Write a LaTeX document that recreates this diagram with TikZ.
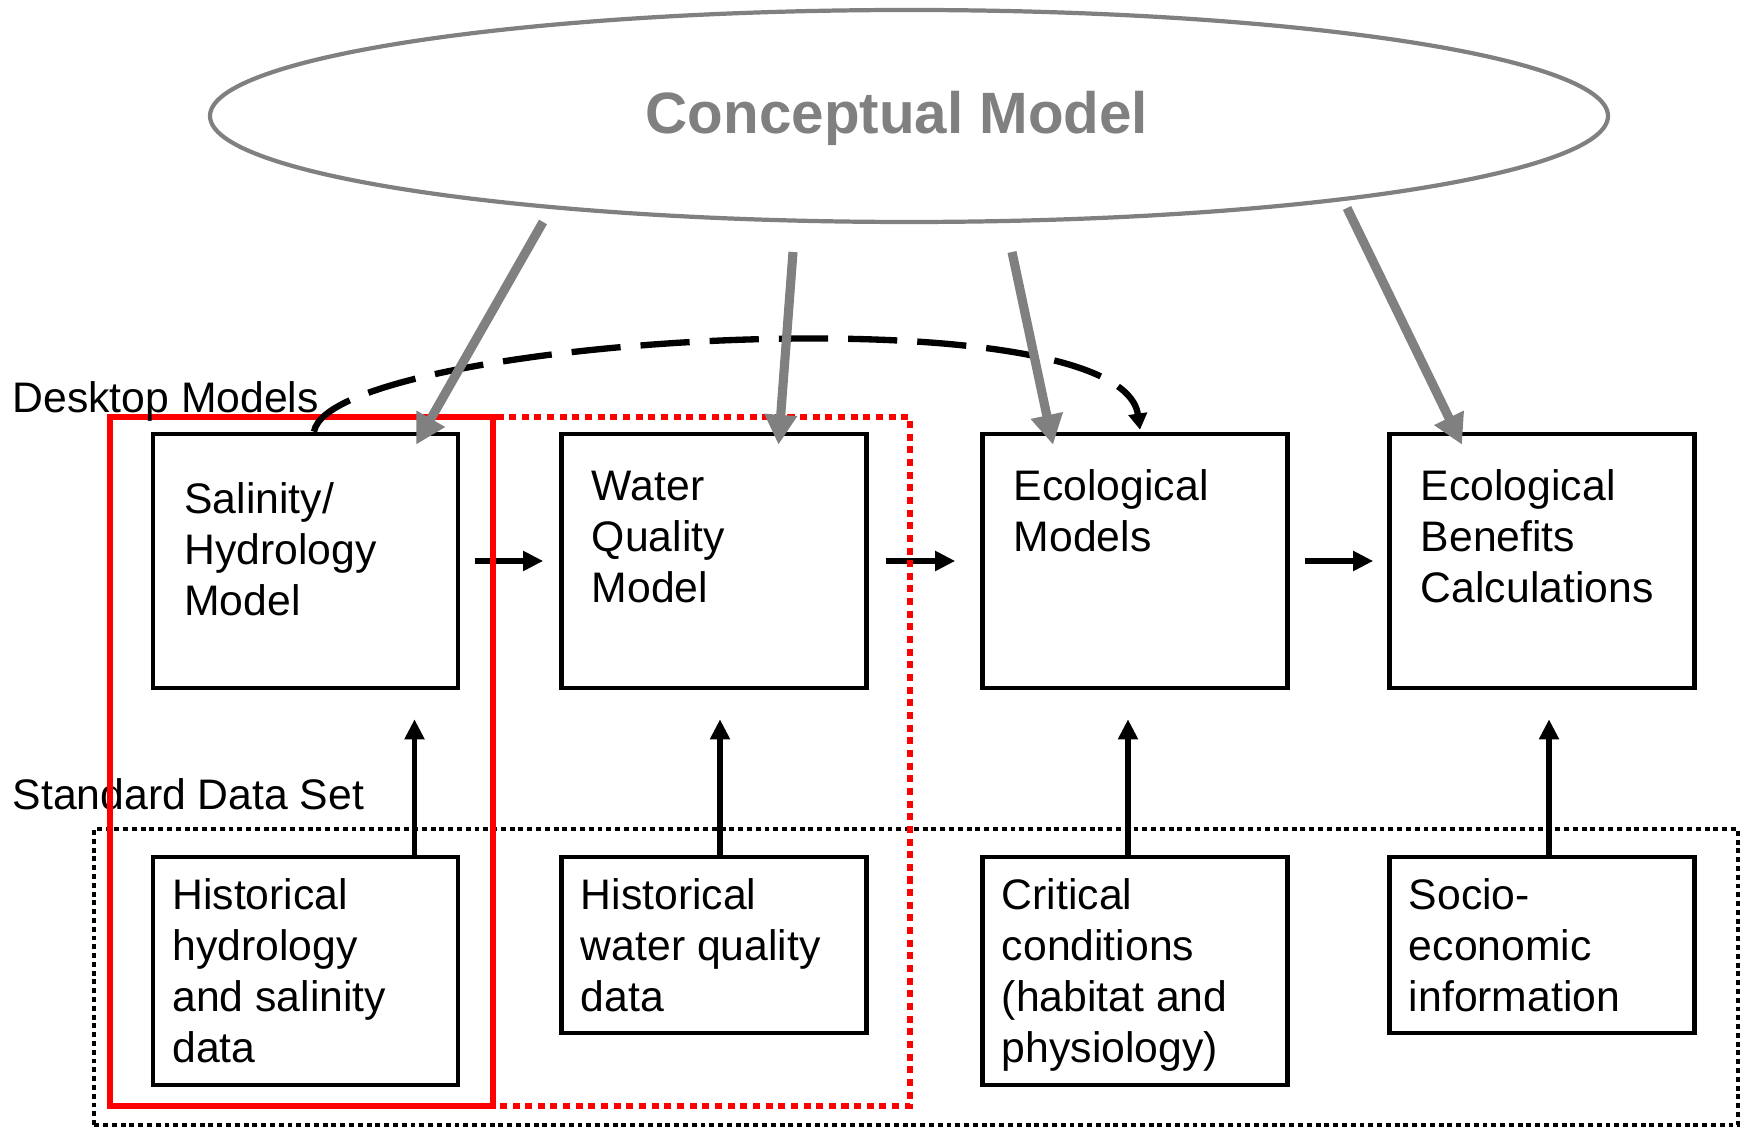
\documentclass[tikz,border=0pt]{standalone}
\usepackage{fontspec}
\setmainfont{Liberation Sans}
\colorlet{ConceptLine}{black!50}
\colorlet{GroupFrame}{red}
\usetikzlibrary{shapes.geometric,arrows.meta}

\tikzset{
  modelbox/.style={draw, line width=1.3pt, minimum width=3.05cm, inner sep=0pt},
  boxtext/.style={anchor=base west, align=left, inner sep=0pt,
    font=\fontsize{12.15}{14.5}\selectfont},
  concept/.style={ellipse, draw=ConceptLine, line width=1.2pt, inner sep=0pt,
    minimum width=13.98cm, minimum height=2.12cm},
  concepttext/.style={text=ConceptLine, inner sep=0pt,
    font=\fontsize{16.6}{20}\selectfont\bfseries},
  flowarrow/.style={line width=1.6pt, -{Triangle[length=5.7pt,width=5.4pt]}},
  conceptarrow/.style={ConceptLine, line width=2.6pt,
    -{Triangle[length=8.5pt,width=8.8pt]}},
  linkarrow/.style={line width=1.8pt, dash pattern=on 14pt off 5.7pt,
    -{Triangle[length=4.6pt,width=5.2pt]}},
}

\begin{document}
\begin{tikzpicture}

\useasboundingbox (0,0) rectangle (17.49,11.29);

% Modelo conceptual
\node[concept] (cm) at (9.09,10.13) {};
\node[concepttext] (cmtxt) at ([xshift=-0.12cm,yshift=-0.025cm]cm.center) {Conceptual Model};

\coordinate (g1) at (5.43,9.07);
\coordinate (g2) at (7.93,8.77);
\coordinate (g3) at (10.12,8.77);
\coordinate (g4) at (13.47,9.21);

% Conjunto de datos (recuadro punteado)
\draw[line width=1.4pt, dash pattern=on 1.4pt off 1.1pt] (0.94,0.04) rectangle (17.38,3.00);
\node[boxtext] (sds) at (0.12,3.19) {Standard Data Set};

% Cajas de modelos
\node[modelbox, minimum height=2.54cm] (sal) at (3.055,5.68) {};
\node[modelbox, minimum height=2.54cm] (wq) at (7.14,5.68) {};
\node[modelbox, minimum height=2.54cm] (eco) at (11.35,5.68) {};
\node[modelbox, minimum height=2.54cm] (ebc) at (15.42,5.68) {};

% Cajas de datos
\node[modelbox, minimum height=2.28cm] (hhs) at (3.055,1.58) {};
\node[modelbox, minimum height=1.76cm] (hwq) at (7.14,1.84) {};
\node[modelbox, minimum height=2.28cm] (crit) at (11.35,1.58) {};
\node[modelbox, minimum height=1.76cm] (socio) at (15.42,1.84) {};

% El texto se ancla en la linea base de su ultima linea
\node[boxtext] (saltxt) at ([xshift=0.33cm,yshift=-1.84cm]sal.north west) {Salinity/\\Hydrology\\Model};
\node[boxtext] (wqtxt) at ([xshift=0.32cm,yshift=-1.71cm]wq.north west) {Water\\Quality\\Model};
\node[boxtext] (ecotxt) at ([xshift=0.33cm,yshift=-1.20cm]eco.north west) {Ecological\\Models};
\node[boxtext] (ebctxt) at ([xshift=0.33cm,yshift=-1.71cm]ebc.north west) {Ecological\\Benefits\\Calculations};

\node[boxtext] (hhstxt) at ([xshift=0.21cm,yshift=-2.08cm]hhs.north west) {Historical\\hydrology\\and salinity\\data};
\node[boxtext] (hwqtxt) at ([xshift=0.21cm,yshift=-1.57cm]hwq.north west) {Historical\\water quality\\data};
\node[boxtext] (crittxt) at ([xshift=0.21cm,yshift=-2.08cm]crit.north west) {Critical\\conditions\\(habitat and\\physiology)};
\node[boxtext] (sociotxt) at ([xshift=0.21cm,yshift=-1.57cm]socio.north west) {Socio-\\economic\\information};

% Flechas entre modelos y desde los datos
\draw[flowarrow] ([xshift=0.15cm]sal.east) -- ([xshift=-0.16cm]wq.west);
\draw[flowarrow] ([xshift=0.17cm]wq.east) -- ([xshift=-0.25cm]eco.west);
\draw[flowarrow] ([xshift=0.15cm]eco.east) -- ([xshift=-0.14cm]ebc.west);

\draw[flowarrow] ([xshift=1.09cm]hhs.north) -- ([xshift=1.09cm,yshift=-0.29cm]sal.south);
\draw[flowarrow] ([xshift=0.06cm]hwq.north) -- ([xshift=0.06cm,yshift=-0.29cm]wq.south);
\draw[flowarrow] ([xshift=-0.07cm]crit.north) -- ([xshift=-0.07cm,yshift=-0.29cm]eco.south);
\draw[flowarrow] ([xshift=0.07cm]socio.north) -- ([xshift=0.07cm,yshift=-0.29cm]ebc.south);

% Recuadros rojos, despues de las flechas para quedar encima
\draw[GroupFrame, line width=1.7pt, dash pattern=on 2pt off 1.6pt] (1.10,0.23) rectangle (9.10,7.12);
\draw[GroupFrame, line width=1.6pt] (1.10,0.23) rectangle (4.93,7.12);

\node[boxtext] (dm) at (0.12,7.16) {Desktop Models};

% Enlace directo salinidad -> ecologia
\draw[linkarrow] ([xshift=0.085cm]sal.north)
  .. controls +(0.16,0.94) and +(-0.20,1.42) .. ([xshift=0.05cm,yshift=0.02cm]eco.north);

% Flechas grises del modelo conceptual
\draw[conceptarrow] (g1) -- ([xshift=1.105cm,yshift=-0.13cm]sal.north);
\draw[conceptarrow] (g2) -- ([xshift=0.645cm,yshift=-0.13cm]wq.north);
\draw[conceptarrow] (g3) -- ([xshift=-0.82cm,yshift=-0.13cm]eco.north);
\draw[conceptarrow] (g4) -- ([xshift=-0.80cm,yshift=-0.13cm]ebc.north);

\end{tikzpicture}
\end{document}
